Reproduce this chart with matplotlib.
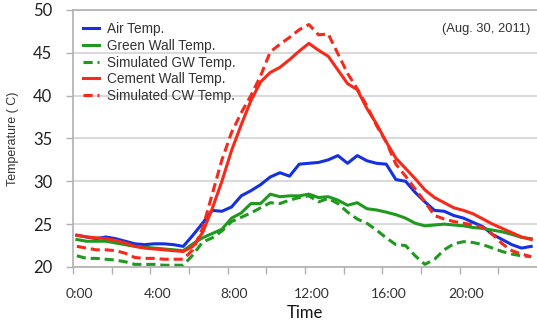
import numpy as np
import matplotlib
matplotlib.use("Agg")
import matplotlib.pyplot as plt

# half-hourly samples (hours)
hours = np.arange(48) * 0.5

air = [23.7, 23.5, 23.3, 23.5, 23.3, 23.0, 22.7, 22.6, 22.7, 22.7, 22.6, 22.4,
       23.7, 25.1, 26.6, 26.5, 27.0, 28.3, 28.9, 29.6, 30.5, 31.0, 30.6, 32.0,
       32.1, 32.2, 32.5, 33.0, 32.1, 33.0, 32.4, 32.1, 32.0, 30.2, 30.0, 28.7,
       27.6, 26.6, 26.5, 26.0, 25.7, 25.2, 24.7, 23.8, 23.2, 22.6, 22.2, 22.4]

green_wall = [23.2, 23.0, 23.0, 23.0, 22.8, 22.6, 22.4, 22.3, 22.2, 22.1, 22.0, 21.9,
              22.7, 23.4, 23.9, 24.4, 25.7, 26.3, 27.4, 27.4, 28.5, 28.2, 28.3, 28.3,
              28.5, 28.1, 28.2, 27.8, 27.2, 27.5, 26.8, 26.65, 26.4, 26.1, 25.7, 25.1,
              24.8, 24.9, 25.0, 24.9, 24.8, 24.6, 24.5, 24.3, 24.1, 23.8, 23.45, 23.3]

sim_gw = [21.3, 21.0, 21.0, 20.9, 20.8, 20.6, 20.3, 20.3, 20.3, 20.2, 20.2, 20.2,
          21.4, 22.9, 23.4, 24.2, 25.3, 25.8, 26.3, 26.9, 27.5, 27.4, 27.8, 28.1,
          28.3, 27.6, 28.0, 27.4, 26.4, 25.6, 25.1, 24.3, 23.4, 22.6, 22.5, 21.3,
          20.3, 20.9, 22.0, 22.7, 22.95, 22.85, 22.6, 22.2, 21.8, 21.5, 21.3, 21.2]

cement_wall = [23.7, 23.5, 23.4, 23.3, 23.1, 22.8, 22.4, 22.2, 22.1, 22.0, 21.9, 21.8,
               22.4, 24.0, 26.8, 30.0, 33.6, 36.6, 39.4, 41.6, 42.7, 43.3, 44.2, 45.2,
               46.1, 45.3, 44.6, 43.0, 41.4, 40.7, 38.5, 36.7, 34.6, 32.7, 31.5, 30.3,
               29.0, 28.1, 27.5, 26.9, 26.6, 26.2, 25.6, 25.0, 24.5, 24.0, 23.5, 23.2]

sim_cw = [22.4, 22.2, 22.0, 22.0, 21.9, 21.6, 21.1, 21.0, 21.0, 20.9, 20.9, 20.9,
          22.0, 24.5, 28.5, 32.5, 35.7, 38.0, 40.0, 42.3, 45.1, 46.0, 46.8, 47.7,
          48.3, 47.1, 47.2, 44.9, 42.6, 40.8, 38.8, 36.5, 34.6, 32.0, 30.6, 29.1,
          27.6, 26.0, 25.6, 25.3, 25.1, 24.9, 24.6, 23.8, 22.7, 21.9, 21.5, 21.2]

tick_labels = ["0:00", "4:00", "8:00", "12:00", "16:00", "20:00"]
label_hours = [0, 4, 8, 12, 16, 20]
series_names = ["Air Temp.", "Green Wall Temp.", "Simulated GW Temp.",
                "Cement Wall Temp.", "Simulated CW Temp."]

BLUE = "#1530e0"
GREEN = "#1f9a1f"
RED = "#f52a1a"
GRID = "#d9d9d9"
AXC = "#b0b0b0"

fig = plt.figure(figsize=(5.37, 3.22), dpi=100)
ax = fig.add_axes([0.136, 0.171, 0.864, 0.798])

off = 0.2  # axis offset of first sample relative to category ticks
t = hours + off
lw = 2.2
dash = (0, (3, 1.6))
ax.plot(t, air, color=BLUE, lw=lw, label=series_names[0])
ax.plot(t, green_wall, color=GREEN, lw=lw, label=series_names[1])
ax.plot(t, sim_gw, color=GREEN, lw=lw, ls=dash, label=series_names[2])
ax.plot(t, cement_wall, color=RED, lw=lw, label=series_names[3])
ax.plot(t, sim_cw, color=RED, lw=lw, ls=dash, label=series_names[4])

ax.set_xlim(0, 24.0)
ax.set_ylim(20, 50)
ax.set_yticks(np.arange(20, 51, 5))
ax.yaxis.grid(True, color=GRID, lw=1.4)
ax.set_axisbelow(True)

ax.set_xticks(np.arange(0, 24, 2))
ax.set_xticklabels([])
ax.set_xticks([h + 0.35 for h in label_hours], minor=True)
ax.set_xticklabels(tick_labels, minor=True)
ax.tick_params(axis="x", which="major", length=5, width=1, color=AXC, direction="out")
ax.tick_params(axis="x", which="minor", length=0, pad=15, labelsize=10, labelcolor="#333333")
ax.tick_params(axis="y", length=5, width=1, color=AXC, pad=10, labelsize=12, labelcolor="#222222")
for lab in ax.get_xticklabels(minor=True) + ax.get_yticklabels():
    lab.set_family("Lato")

for s in ["left", "bottom", "top"]:
    ax.spines[s].set_color(AXC)
    ax.spines[s].set_linewidth(1.2)
ax.spines["right"].set_visible(False)

ax.set_xlabel("Time", fontsize=12, family="Lato", labelpad=4, color="#111111")
ax.set_ylabel("Temperature ( C)", fontsize=9, family="Liberation Sans", labelpad=10, color="#333333")

leg = ax.legend(loc="upper left", bbox_to_anchor=(0.0, 0.99), frameon=False,
                prop={"family": "Liberation Sans", "size": 9.8},
                handlelength=1.2, handletextpad=0.6, labelspacing=0.2,
                borderaxespad=0.3, borderpad=0.4)
for txt in leg.get_texts():
    txt.set_color("#333333")

ax.text(0.985, 0.925, "(Aug. 30, 2011)", transform=ax.transAxes, ha="right", va="center",
        fontsize=9.3, family="Liberation Sans", color="#333333")

fig.savefig("out.png", dpi=100)
